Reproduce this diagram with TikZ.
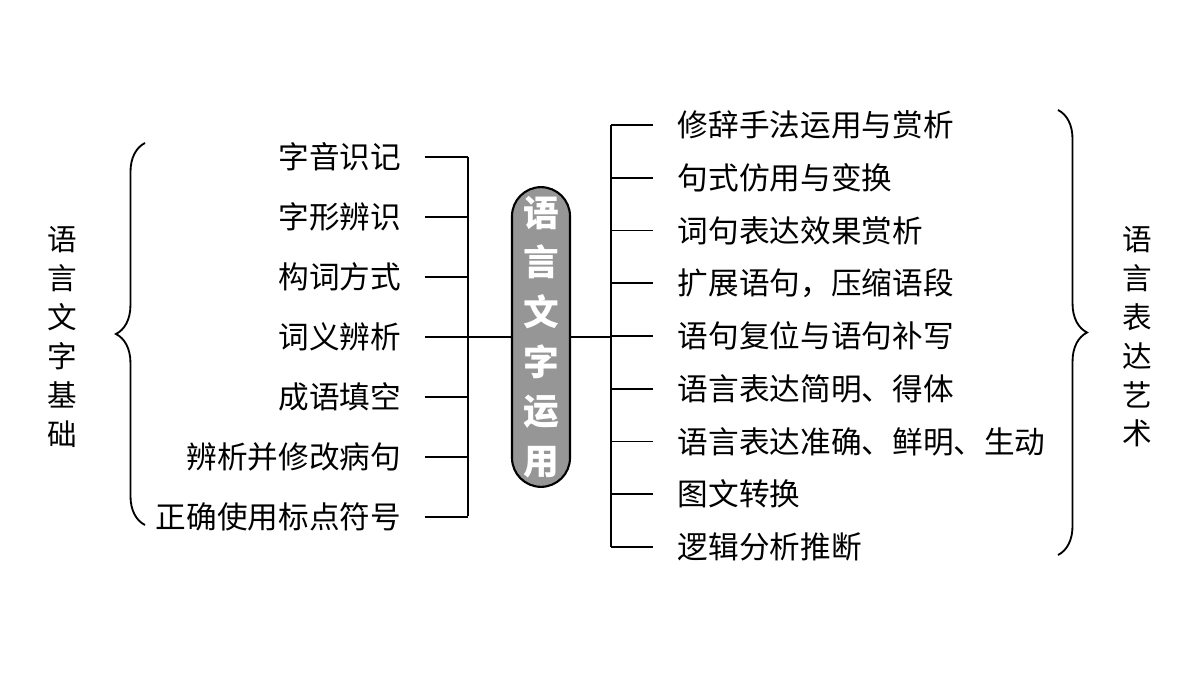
\documentclass[tikz,border=0pt]{standalone}
\usepackage{fontspec}
\setmainfont{Noto Sans CJK SC}
\usetikzlibrary{decorations.pathreplacing}
\definecolor{coregray}{RGB}{150,150,150}

\begin{document}
\begin{tikzpicture}[x=0.0133cm, y=-0.0133cm, line width=0.7pt]
                \useasboundingbox (0,0) rectangle (1200,675);
                \tikzset{item/.style={font=\fontsize{11.6}{12}\selectfont, inner sep=0pt},
                         vlabel/.style={font=\fontsize{11.2}{14.7}\selectfont, align=center, inner sep=0pt}}
                % Core
                \node[draw, thick, fill=coregray, rounded corners=11pt, minimum width=58*0.0133cm,
                      minimum height=295*0.0133cm, text=white, align=center,
                      font=\fontsize{13.5}{18.8}\selectfont\bfseries] (core) at (541,337) {语\\言\\文\\字\\运\\用};
                % Left branch
                \coordinate (lj) at (468,337);
                \draw (core.west) -- (lj);
                \draw (468,157) -- (468,516);
                \foreach \t [count=\i from 0] in {字音识记,字形辨识,构词方式,词义辨析,成语填空,辨析并修改病句,正确使用标点符号}{
                  \node[item, anchor=east] (l\i) at (402,157+60*\i) {\t};
                  \draw (425,157+60*\i) -- (468,157+60*\i);
                }
                % Right branch
                \coordinate (rj) at (611,337);
                \draw (core.east) -- (rj);
                \draw (611,125) -- (611,547);
                \foreach \t [count=\i from 0] in {修辞手法运用与赏析,句式仿用与变换,词句表达效果赏析,扩展语句，压缩语段,语句复位与语句补写,语言表达简明、得体,语言表达准确、鲜明、生动,图文转换,逻辑分析推断}{
                  \node[item, anchor=west] (r\i) at (677,125+52.75*\i) {\t};
                  \draw (611,125+52.75*\i) -- (653,125+52.75*\i);
                }
                % Braces
                \draw[decorate, decoration={brace, amplitude=11pt}] (145,525) -- (145,143);
                \draw[decorate, decoration={brace, amplitude=11pt}] (1058,110) -- (1058,555);
                \node[vlabel] (lbase) at (62,337) {语\\言\\文\\字\\基\\础};
                \node[vlabel] (rart) at (1137,337) {语\\言\\表\\达\\艺\\术};
            \end{tikzpicture}
\end{document}
